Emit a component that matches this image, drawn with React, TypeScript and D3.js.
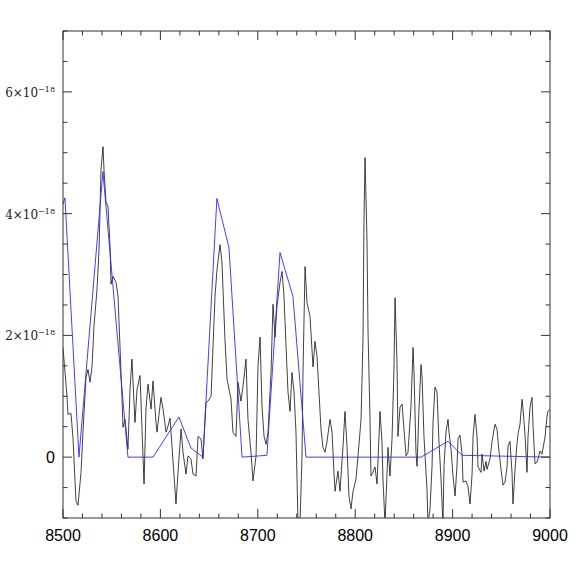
import React from 'react';
import * as d3 from 'd3';

// observed spectrum (wavelength, flux in 1e-18 units)
const obsWave = [
  8500, 8504.1, 8505.1, 8508.2, 8510.3, 8513.3, 8515.4, 8518.5, 8520.5, 8523.6,
  8525.7, 8527.7, 8529.8, 8531.8, 8534.9, 8537.0, 8539.0, 8541.1, 8542.1, 8544.1,
  8546.2, 8548.3, 8549.3, 8551.3, 8554.4, 8556.5, 8558.5, 8560.6, 8561.6, 8563.7,
  8565.7, 8566.7, 8568.8, 8570.8, 8573.9, 8576.0, 8579.1, 8583.2, 8585.2, 8587.3,
  8590.4, 8592.4, 8595.5, 8596.5, 8600.6, 8602.7, 8605.8, 8607.8, 8609.9, 8611.9,
  8616.0, 8618.1, 8621.2, 8623.2, 8626.3, 8628.3, 8631.4, 8633.5, 8636.6, 8638.6,
  8641.7, 8643.7, 8646.8, 8648.9, 8652.0, 8654.0, 8656.1, 8658.1, 8661.2, 8663.2,
  8664.3, 8666.3, 8668.4, 8672.5, 8674.5, 8677.6, 8679.7, 8682.7, 8684.8, 8687.9,
  8689.9, 8693.0, 8695.1, 8698.2, 8700.2, 8702.3, 8704.3, 8706.4, 8708.4, 8710.5,
  8713.6, 8715.6, 8717.7, 8719.7, 8722.8, 8724.9, 8726.9, 8729.0, 8731.0, 8733.1,
  8735.1, 8737.2, 8739.2, 8741.3, 8743.3, 8745.4, 8746.4, 8748.5, 8750.5, 8753.6,
  8755.6, 8756.7, 8758.7, 8760.8, 8762.8, 8764.9, 8766.9, 8769.0, 8771.0, 8774.1,
  8776.2, 8778.2, 8779.3, 8782.3, 8784.4, 8787.5, 8789.5, 8791.6, 8793.6, 8795.7,
  8797.7, 8800.8, 8802.9, 8806.0, 8808.0, 8809.0, 8810.1, 8812.1, 8813.2, 8815.2,
  8816.2, 8818.3, 8820.3, 8822.4, 8825.5, 8827.5, 8828.5, 8830.6, 8832.6, 8833.7,
  8835.7, 8837.8, 8839.8, 8840.9, 8842.9, 8843.9, 8846.0, 8848.1, 8850.1, 8852.2,
  8854.2, 8857.3, 8859.4, 8860.4, 8862.4, 8863.5, 8865.5, 8867.6, 8868.6, 8870.6,
  8873.7, 8874.7, 8876.8, 8878.9, 8879.9, 8881.9, 8884.0, 8886.0, 8888.1, 8890.1,
  8891.2, 8893.2, 8895.3, 8896.3, 8898.4, 8900.4, 8902.5, 8904.5, 8905.6, 8907.6,
  8909.7, 8910.7, 8913.8, 8915.8, 8917.9, 8920.0, 8921.0, 8923.0, 8925.1, 8926.1,
  8929.2, 8930.2, 8932.3, 8934.3, 8935.3, 8938.4, 8940.5, 8943.5, 8945.6, 8947.6,
  8949.7, 8951.8, 8953.8, 8955.9, 8956.9, 8958.9, 8961.0, 8962.0, 8964.1, 8966.1,
  8967.2, 8969.2, 8971.3, 8972.3, 8974.3, 8976.4, 8977.4, 8979.5, 8981.5, 8982.6,
  8984.6, 8986.7, 8987.7, 8989.7, 8991.8, 8994.9, 8996.9, 8997.9, 9000,
];
const obsFlux = [
  1.8, 1.0, 0.7, 0.72, 0.3, -0.72, -0.79, -0.25, 0.41, 1.31,
  1.44, 1.23, 1.49, 2.15, 2.75, 3.41, 4.72, 5.1, 4.72, 4.2,
  4.11, 3.46, 2.84, 2.97, 2.87, 2.64, 1.82, 0.95, 0.49, 0.62,
  0.3, 0.13, 1.11, 1.61, 0.57, 1.11, 1.34, -0.44, 0.79, 1.2,
  0.79, 1.25, 0.57, 0.41, 0.98, 0.79, 0.41, 0.51, 0.64, 0.18,
  -0.77, -0.25, 0.46, 0.08, -0.28, 0.02, -0.03, -0.28, -0.31, 0.34,
  0.3, -0.03, 0.9, 0.92, 1.0, 1.82, 2.64, 3.08, 3.49, 3.2,
  2.75, 1.93, 1.28, 0.95, 0.41, 0.34, 1.23, 0.92, 1.16, 1.61,
  0.62, 0.08, -0.39, 0.02, 1.49, 1.97, 0.84, 0.34, 0.21, 0.41,
  1.39, 2.51, 1.97, 2.48, 2.87, 3.05, 2.64, 1.82, 1.07, 0.75,
  1.39, 1.07, 0.41, -1.1, -1.1, 0.02, 1.39, 3.13, 2.54, 2.31,
  1.77, 1.48, 1.9, 1.66, 1.07, 0.46, 0.16, 0.08, 0.25, 0.62,
  0.41, -0.25, -0.56, -0.23, -0.56, 0.18, 0.75, 0.18, -0.64, -0.85,
  -0.57, -0.36, 0.02, 0.62, 1.93, 3.85, 4.92, 3.57, 2.05, 0.62,
  -0.31, -0.25, -0.16, -0.44, 0.75, 0.25, -0.36, -1.1, -0.31, 0.16,
  -0.31, 0.3, 1.44, 2.62, 1.56, 0.34, 0.82, 0.87, 0.46, 0.02,
  0.08, 0.84, 1.8, 1.39, 0.08, -0.15, 0.79, 1.52, 1.33, 0.34,
  -0.52, -1.1, -0.85, -0.15, 0.57, 1.15, 1.07, 0.25, -0.36, -1.1,
  -0.15, 0.41, 0.62, 0.41, 0.13, -0.31, -0.64, -0.15, 0.3, 0.36,
  0.05, -0.41, -0.39, -0.48, -0.77, -0.28, 0.34, 0.7, 0.33, -0.16,
  -0.25, 0.05, -0.23, -0.07, -0.2, -0.03, 0.26, 0.54, 0.46, 0.1,
  -0.2, -0.46, -0.41, -0.16, 0.18, 0.26, -0.25, -0.77, -0.2, 0.21,
  0.38, 0.54, 0.95, 0.79, 0.38, -0.25, 0.33, 0.82, 0.98, 0.51,
  -0.11, -0.08, -0.03, 0.1, 0.05, 0.33, 0.66, 0.75, 0.79,
];

// model (blue)
const modelWave = [
  8500, 8502, 8516.4, 8541, 8566.7, 8592.4, 8619, 8631.4, 8643.7, 8658,
  8670.4, 8683.8, 8709.4, 8722.8, 8736.1, 8749.5, 8867.6, 8895.3, 8909.7, 9000,
];
const modelFlux = [
  4.15, 4.26, 0, 4.69, 0, 0, 0.66, 0.15, 0, 4.25,
  3.44, 0, 0.03, 3.36, 2.64, 0, 0, 0.26, 0.03, 0,
];

const xMajor = [8500, 8600, 8700, 8800, 8900, 9000];
const yMajor = [0, 2, 4, 6];
const SCALE = 1e-18;

const W = 581, H = 581;
const left = 63, right = 550, top = 31, bottom = 518;

export default function App() {
  const x = d3.scaleLinear().domain([8500, 9000]).range([left, right]);
  const y = d3.scaleLinear().domain([-1 * SCALE, 7 * SCALE]).range([bottom, top]);

  const obs = obsWave.map((w, i) => [w, obsFlux[i] * SCALE] as [number, number]);
  const mod = modelWave.map((w, i) => [w, modelFlux[i] * SCALE] as [number, number]);
  const line = d3.line<[number, number]>().x(d => x(d[0])).y(d => y(d[1]));

  const xMinor = d3.range(8500, 9001, 20).filter(v => !xMajor.includes(v));
  const yMinor = d3.range(-1, 7.01, 0.5).filter(v => !yMajor.includes(v));
  const axisColor = '#333';

  return (
    <svg width={W} height={H} style={{ position: 'absolute', left: 0, top: 0, background: '#fff' }}>
      <defs>
        <clipPath id="plot">
          <rect x={left} y={top} width={right - left} height={bottom - top} />
        </clipPath>
      </defs>
      <g clipPath="url(#plot)" fill="none">
        <path d={line(obs) || ''} stroke="#111" strokeWidth={0.8} />
        <path d={line(mod) || ''} stroke="#2a2aff" strokeWidth={0.9} />
      </g>
      <g stroke={axisColor} strokeWidth={1}>
        <rect x={left} y={top} width={right - left} height={bottom - top} fill="none" />
        {xMajor.map(v => (
          <g key={'xM' + v}>
            <line x1={x(v)} x2={x(v)} y1={bottom} y2={bottom - 9} />
            <line x1={x(v)} x2={x(v)} y1={top} y2={top + 9} />
          </g>
        ))}
        {xMinor.map(v => (
          <g key={'xm' + v}>
            <line x1={x(v)} x2={x(v)} y1={bottom} y2={bottom - 4.5} />
            <line x1={x(v)} x2={x(v)} y1={top} y2={top + 4.5} />
          </g>
        ))}
        {yMajor.map(v => (
          <g key={'yM' + v}>
            <line x1={left} x2={left + 9} y1={y(v * SCALE)} y2={y(v * SCALE)} />
            <line x1={right} x2={right - 9} y1={y(v * SCALE)} y2={y(v * SCALE)} />
          </g>
        ))}
        {yMinor.map(v => (
          <g key={'ym' + v}>
            <line x1={left} x2={left + 4.5} y1={y(v * SCALE)} y2={y(v * SCALE)} />
            <line x1={right} x2={right - 4.5} y1={y(v * SCALE)} y2={y(v * SCALE)} />
          </g>
        ))}
      </g>
      <g fontFamily="'Liberation Sans', Arial, sans-serif" fontSize={16} fill="#000" textAnchor="middle">
        {xMajor.map(v => (
          <text key={'xl' + v} x={x(v)} y={bottom + 23}>{v}</text>
        ))}
      </g>
      <g fill="#000" textAnchor="end">
        {yMajor.map(v =>
          v === 0 ? (
            <text key={'yl' + v} x={left - 8} y={y(0) + 6} fontFamily="'Liberation Sans', Arial, sans-serif" fontSize={16}>0</text>
          ) : (
            <text key={'yl' + v} x={left - 8} y={y(v * SCALE) + 5} fontFamily="'DejaVu Serif', serif" fontSize={12} fill="#222">
              {v}×10
              <tspan fontSize={8} dy={-5}>−18</tspan>
            </text>
          )
        )}
      </g>
    </svg>
  );
}
